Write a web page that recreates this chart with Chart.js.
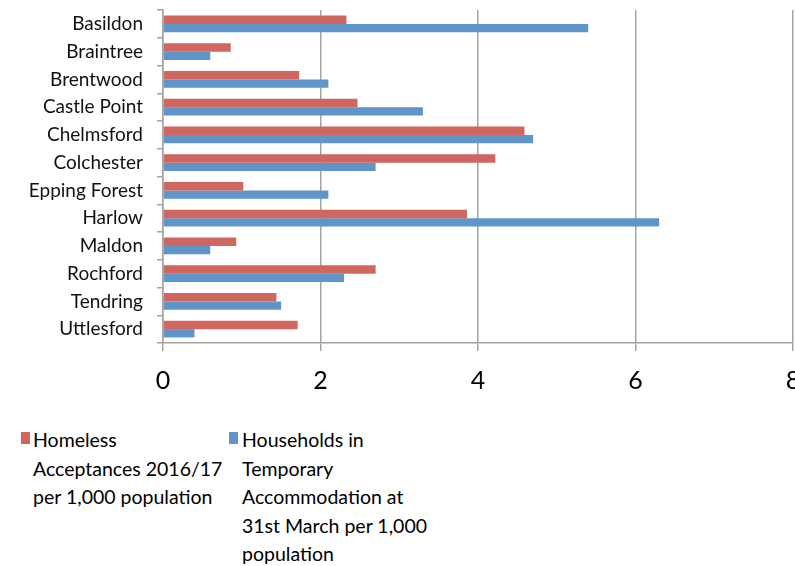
<!DOCTYPE html>
<html><head><meta charset="utf-8">
<script src="https://cdn.jsdelivr.net/npm/chart.js@4"></script>
<style>
html,body{margin:0;padding:0;background:#fff;overflow:hidden;width:795px;height:566px}
#wrap{position:absolute;left:0;top:0;width:812px;height:405px}
.leg{position:absolute;font-family:Lato,sans-serif;font-size:19.5px;line-height:28.5px;color:#000;white-space:nowrap}
.box{position:absolute;width:9px;height:12px}
</style></head><body>
<div id="wrap"><canvas id="c" width="812" height="405"></canvas></div>
<div id="legend"></div>
<script>
const categories = ["Basildon","Braintree","Brentwood","Castle Point","Chelmsford","Colchester","Epping Forest","Harlow","Maldon","Rochford","Tendring","Uttlesford"];
const homelessAcceptances = [2.33,0.86,1.73,2.47,4.59,4.22,1.02,3.86,0.93,2.70,1.44,1.71];
const temporaryAccommodation = [5.4,0.6,2.1,3.3,4.7,2.7,2.1,6.3,0.6,2.3,1.5,0.4];
const xTicks = [0,2,4,6,8];
const seriesLines = [
  ["Homeless","Acceptances 2016/17","per 1,000 population"],
  ["Households in","Temporary","Accommodation at","31st March per 1,000","population"]
];
const seriesColors = ["#CF6660","#5F95C8"];

const gridColor = "#A3A3A3";
const chart = new Chart(document.getElementById('c'), {
  type: 'bar',
  data: {
    labels: categories,
    datasets: [
      {label: seriesLines[0].join(' '), data: homelessAcceptances, backgroundColor: seriesColors[0]},
      {label: seriesLines[1].join(' '), data: temporaryAccommodation, backgroundColor: seriesColors[1]}
    ]
  },
  options: {
    indexAxis: 'y',
    responsive: false,
    animation: false,
    categoryPercentage: 0.6,
    barPercentage: 1.0,
    layout: {padding: {top: 0, right: 19, left: 0, bottom: 0}},
    plugins: {legend: {display: false}, tooltip: {enabled: false}},
    scales: {
      x: {
        min: 0, max: 8,
        afterBuildTicks(scale){ scale.ticks = xTicks.map(v => ({value: v})); },
        afterFit(scale){ scale.height = 62; scale.paddingLeft = 0; scale.paddingRight = 0; },
        grid: {color: gridColor, lineWidth: 1.5, tickLength: 8, tickColor: gridColor, drawTicks: true},
        border: {display: true, color: gridColor, width: 1.5},
        ticks: {color: '#000', font: {family: 'Lato', size: 25}, padding: 15, maxRotation: 0}
      },
      y: {
        afterFit(scale){ scale.width = 163; scale.paddingTop = 10; scale.paddingBottom = 0; },
        grid: {offset: true, drawOnChartArea: false, drawTicks: true, tickLength: 6, tickColor: gridColor, lineWidth: 1.5},
        border: {display: true, color: gridColor, width: 1.5},
        ticks: {color: '#111', font: {family: 'Lato', size: 19}, padding: 14, autoSkip: false}
      }
    }
  }
});

const legendPos = [{box: 21, text: 33}, {box: 229, text: 242}];
const legendEl = document.getElementById('legend');
chart.data.datasets.forEach((ds, i) => {
  const b = document.createElement('div');
  b.className = 'box';
  b.style.left = legendPos[i].box + 'px';
  b.style.top = '432px';
  b.style.background = ds.backgroundColor;
  legendEl.appendChild(b);
  const t = document.createElement('div');
  t.className = 'leg';
  t.style.left = legendPos[i].text + 'px';
  t.style.top = '426px';
  t.innerHTML = seriesLines[i].join('<br>');
  legendEl.appendChild(t);
});
</script>
</body></html>
